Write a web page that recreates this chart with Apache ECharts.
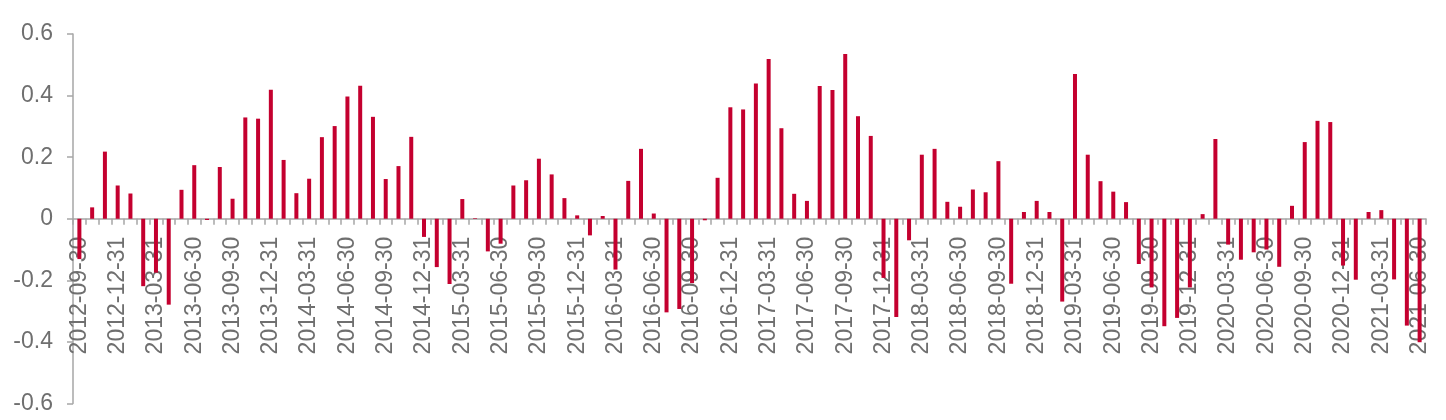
<!DOCTYPE html>
<html>
<head>
<meta charset="utf-8">
<title>chart</title>
<script src="https://cdn.jsdelivr.net/npm/echarts@6/dist/echarts.min.js"></script>
<style>
    html, body {margin: 0; padding: 0; background: #fff;}
    #main {width: 1446px; height: 420px;}
</style>
</head>
<body>
<div id="main"></div>
<script>

/*月末日期*/
let months = [
    '2012-09-30', '2012-10-31', '2012-11-30', '2012-12-31',
    '2013-01-31', '2013-02-28', '2013-03-31', '2013-04-30', '2013-05-31', '2013-06-30',
    '2013-07-31', '2013-08-31', '2013-09-30', '2013-10-31', '2013-11-30', '2013-12-31',
    '2014-01-31', '2014-02-28', '2014-03-31', '2014-04-30', '2014-05-31', '2014-06-30',
    '2014-07-31', '2014-08-31', '2014-09-30', '2014-10-31', '2014-11-30', '2014-12-31',
    '2015-01-31', '2015-02-28', '2015-03-31', '2015-04-30', '2015-05-31', '2015-06-30',
    '2015-07-31', '2015-08-31', '2015-09-30', '2015-10-31', '2015-11-30', '2015-12-31',
    '2016-01-31', '2016-02-29', '2016-03-31', '2016-04-30', '2016-05-31', '2016-06-30',
    '2016-07-31', '2016-08-31', '2016-09-30', '2016-10-31', '2016-11-30', '2016-12-31',
    '2017-01-31', '2017-02-28', '2017-03-31', '2017-04-30', '2017-05-31', '2017-06-30',
    '2017-07-31', '2017-08-31', '2017-09-30', '2017-10-31', '2017-11-30', '2017-12-31',
    '2018-01-31', '2018-02-28', '2018-03-31', '2018-04-30', '2018-05-31', '2018-06-30',
    '2018-07-31', '2018-08-31', '2018-09-30', '2018-10-31', '2018-11-30', '2018-12-31',
    '2019-01-31', '2019-02-28', '2019-03-31', '2019-04-30', '2019-05-31', '2019-06-30',
    '2019-07-31', '2019-08-31', '2019-09-30', '2019-10-31', '2019-11-30', '2019-12-31',
    '2020-01-31', '2020-02-29', '2020-03-31', '2020-04-30', '2020-05-31', '2020-06-30',
    '2020-07-31', '2020-08-31', '2020-09-30', '2020-10-31', '2020-11-30', '2020-12-31',
    '2021-01-31', '2021-02-28', '2021-03-31', '2021-04-30', '2021-05-31', '2021-06-30'
];

/*数值*/
let values = [
    -0.131, 0.037, 0.218, 0.108,
    0.082, -0.219, -0.175, -0.279, 0.094, 0.174, -0.004, 0.168, 0.065, 0.329, 0.325, 0.419,
    0.191, 0.083, 0.130, 0.265, 0.301, 0.397, 0.432, 0.331, 0.129, 0.171, 0.266, -0.059,
    -0.157, -0.212, 0.064, 0.002, -0.106, -0.081, 0.108, 0.125, 0.195, 0.144, 0.067, 0.011,
    -0.054, 0.009, -0.165, 0.123, 0.227, 0.017, -0.304, -0.293, -0.209, -0.005, 0.133, 0.362,
    0.355, 0.439, 0.519, 0.294, 0.081, 0.058, 0.431, 0.418, 0.535, 0.333, 0.269, -0.192,
    -0.319, -0.070, 0.208, 0.227, 0.055, 0.039, 0.095, 0.086, 0.187, -0.211, 0.022, 0.058,
    0.022, -0.269, 0.470, 0.208, 0.122, 0.088, 0.054, -0.147, -0.223, -0.349, -0.322, -0.223,
    0.015, 0.259, -0.084, -0.133, -0.109, -0.100, -0.156, 0.042, 0.249, 0.318, 0.314, -0.152,
    -0.198, 0.022, 0.028, -0.197, -0.347, -0.401
];

/*y轴刻度*/
let yMin = -0.6;
let yMax = 0.6;
let yStep = 0.2;

let axisColor = '#a6a6a6';
let textColor = '#6f6f6f';
let barColor = '#c4002f';

/*绘图区*/
let gridTop = 34;
let gridBottom = 16.5;
let gridHeight = 420 - gridTop - gridBottom;

let myChart = echarts.init(document.getElementById('main'));

let option = {
    animation: false,
    grid: {
        left: 73,
        right: 20,
        top: gridTop,
        bottom: gridBottom,
        containLabel: false,
        outerBoundsMode: 'none'
    },
    xAxis: {
        type: 'category',
        data: months,
        boundaryGap: true,
        position: 'bottom',
        offset: -gridHeight / 2, //x轴放在0的位置，标签跟着走
        axisLine: {
            onZero: false,
            lineStyle: {color: axisColor, width: 1.5}
        },
        axisTick: {
            show: true,
            interval: 0,
            length: 6,
            lineStyle: {color: axisColor, width: 1.5}
        },
        axisLabel: {
            interval: 2,
            rotate: 90,
            margin: 18,
            hideOverlap: false,
            color: textColor,
            fontSize: 23,
            fontFamily: '"Liberation Sans", Arial, sans-serif'
        },
        splitLine: {show: false}
    },
    yAxis: {
        type: 'value',
        min: yMin,
        max: yMax,
        interval: yStep,
        axisLine: {
            show: true,
            lineStyle: {color: axisColor, width: 1.5}
        },
        axisTick: {
            show: true,
            length: 6,
            lineStyle: {color: axisColor, width: 1.5}
        },
        axisLabel: {
            margin: 20,
            color: textColor,
            fontSize: 23,
            fontFamily: '"Liberation Sans", Arial, sans-serif',
            formatter: (v) => String(Math.round(v * 10) / 10)
        },
        splitLine: {show: false}
    },
    series: [
        {
            type: 'bar',
            data: values,
            barWidth: 4,
            itemStyle: {color: barColor}
        }
    ]
};

myChart.setOption(option);

</script>
</body>
</html>
